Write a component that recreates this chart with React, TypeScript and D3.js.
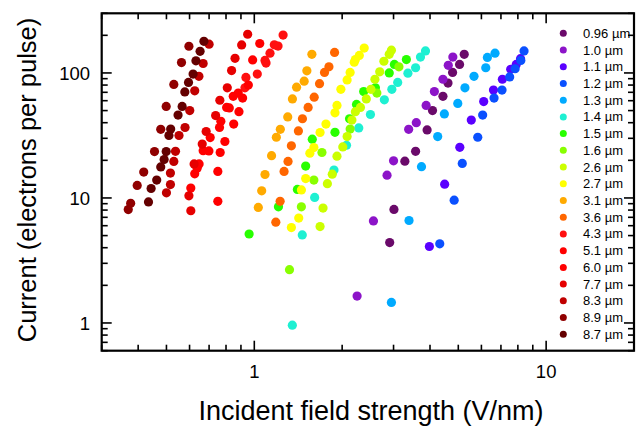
import React from 'react';
import * as d3 from 'd3';

const W = 642;
const H = 430;
const PL = 101.7, PR = 634, PT = 13.3, PB = 350.7;

const xDomain: [number, number] = [0.3, 20];
const yDomain: [number, number] = [0.6, 300];
const xTickLabels = [1, 10];
const yTickLabels = [1, 10, 100];

const seriesLabels = ['0.96 µm', '1.0 µm', '1.1 µm', '1.2 µm', '1.3 µm', '1.4 µm', '1.5 µm', '1.6 µm', '2.6 µm',
  '2.7 µm', '3.1 µm', '3.6 µm', '4.3 µm', '5.1 µm', '6.0 µm', '7.7 µm', '8.3 µm', '8.9 µm', '8.7 µm'];
const seriesColors = ['#6a0a6a', '#8c14c8', '#5a00ff', '#0a50ff', '#00aaff', '#1ef0d2', '#28ff00', '#88ff00', '#ccff00',
  '#ffff00', '#ffaa00', '#ff6600', '#ff1010', '#ff0000', '#ff0000', '#e60000', '#c00000', '#900000', '#640000'];

const x096 = [5.24, 5.05, 4.78, 4.61, 4.43, 4.08, 3.91, 3.57, 3.28, 3.01, 2.91];
const y096 = [141, 117, 101, 83, 65, 50, 35, 23.6, 19.7, 8.1, 4.4];
const x100 = [4.79, 4.62, 4.43, 4.14, 3.88, 3.59, 3.38, 3.0, 2.85, 2.56, 2.25];
const y100 = [134, 115, 89, 71, 55, 40, 35.4, 19.8, 15.2, 6.55, 1.64];
const x110 = [8.17, 7.9, 7.56, 7.08, 6.6, 6.11, 5.54, 5.06, 4.49, 3.98];
const y110 = [130, 117, 107, 89, 73, 59, 42, 25.4, 12.9, 4.09];
const x120 = [8.4, 8.19, 7.83, 7.5, 7.06, 6.63, 6.06, 5.83, 5.16, 4.84, 4.32];
const y120 = [150, 126, 108, 93, 73, 63, 46, 30.6, 18.9, 9.6, 4.3];
const x130 = [6.68, 6.29, 6.21, 5.66, 5.27, 4.98, 4.48, 4.25, 3.74, 3.39, 2.95];
const y130 = [144, 133, 110, 94, 76, 57, 47, 31, 17.8, 6.6, 1.46];
const x140 = [3.86, 3.71, 3.57, 3.36, 3.1, 2.96, 2.79, 2.5, 2.28, 2.07, 1.875, 1.61, 1.46, 1.35];
const y140 = [150, 134, 110, 99.5, 84, 74, 61, 46.5, 36.3, 26.4, 16.7, 10.1, 5.06, 0.96];
const x150 = [3.32, 3.02, 2.9, 2.6, 2.37, 2.24, 2.12, 1.89, 1.58, 1.5, 1.405, 1.21, 0.96];
const y150 = [128, 117, 100, 76, 71, 56, 43, 33.5, 29.5, 18, 11.7, 8.5, 5.15];
const x160 = [3.13, 2.63, 2.13, 1.705, 1.6, 1.45, 1.32];
const y160 = [112, 69, 35.6, 23.1, 13.9, 8.5, 2.67];
const x260 = [2.95, 2.9, 2.78, 2.69, 2.59, 2.51, 2.42, 2.31, 2.22, 2.16, 2.08, 2.01, 1.92, 1.85, 1.78, 1.72, 1.68];
const y260 = [152, 141, 124, 102, 89, 74, 62, 53, 49, 42, 31, 25.6, 21.6, 15.5, 13, 8.3, 5.9];
const x270 = [2.38, 2.29, 2.22, 2.2, 2.13, 2.08, 1.98, 1.92, 1.89, 1.76, 1.68, 1.6, 1.55, 1.5, 1.45, 1.42, 1.34];
const y270 = [158, 138, 128, 122, 101, 88, 74, 55, 48, 39, 33.4, 25.3, 22.8, 14.3, 11.6, 6.9, 5.8];
const x310 = [1.575, 1.514, 1.482, 1.396, 1.351, 1.302, 1.228, 1.19, 1.146, 1.088, 1.06, 1.032];
const y310 = [141, 104, 86, 77, 62, 44.5, 35.4, 30.6, 21.8, 15.4, 11.4, 8.4];
const x360 = [1.884, 1.802, 1.74, 1.673, 1.604, 1.529, 1.462, 1.416, 1.34, 1.305, 1.265, 1.226, 1.185];
const y360 = [146, 112, 101, 82, 64, 53, 43, 34.4, 26.1, 19.6, 16.3, 9.4, 6.4];
const x430 = [1.255, 1.206, 1.171, 1.132, 1.097, 1.088, 1.024, 0.936, 0.929];
const y430 = [201, 164, 168, 144, 120, 126, 98, 92, 76];
const x510 = [1.044, 0.987, 0.954, 0.912, 0.847, 0.886, 0.85, 0.793, 0.764, 0.75, 0.75];
const y510 = [172, 127, 80, 63, 65, 49, 39, 28.3, 23.1, 16.3, 9.4];
const x600 = [0.881, 0.821, 0.804, 0.768, 0.76, 0.706, 0.699, 0.668, 0.647, 0.637, 0.625, 0.606];
const y600 = [69, 52.5, 53, 41, 36.6, 30.4, 23.8, 23.9, 18.7, 17.3, 15.6, 12];
const x770 = [0.949, 0.905, 0.859, 0.836, 0.808, 0.762, 0.737, 0.684, 0.663, 0.622, 0.597, 0.606];
const y770 = [204, 167.5, 131, 104.5, 76, 60.5, 45.6, 34, 27, 18.7, 10.4, 7.9];
const x830 = [0.7, 0.668, 0.646, 0.625, 0.601, 0.579, 0.552, 0.537, 0.53, 0.516, 0.516, 0.5];
const y830 = [170, 119, 94, 72, 50, 36.6, 31.6, 23.6, 19.6, 15.8, 12.8, 11];
const x890 = [0.597, 0.563, 0.53, 0.499, 0.478, 0.455, 0.418, 0.397, 0.377, 0.37];
const y890 = [163.5, 121, 81, 54, 35.4, 23.5, 16.1, 12.6, 9.07, 8.08];
const x870 = [0.672, 0.652, 0.631, 0.617, 0.595, 0.578, 0.566, 0.548, 0.517, 0.51, 0.499, 0.491, 0.478, 0.463, 0.443, 0.434];
const y870 = [179, 149, 125, 98, 84, 70.5, 54, 46, 35.6, 31.6, 23.5, 20.3, 17.7, 13.9, 11.9, 9.3];

const seriesX = [x096, x100, x110, x120, x130, x140, x150, x160, x260, x270, x310, x360, x430, x510, x600, x770, x830, x890, x870];
const seriesY = [y096, y100, y110, y120, y130, y140, y150, y160, y260, y270, y310, y360, y430, y510, y600, y770, y830, y890, y870];

const FONT = '"Liberation Sans", Arial, Helvetica, sans-serif';

export default function App() {
  const x = d3.scaleLog().domain(xDomain).range([PL, PR]);
  const y = d3.scaleLog().domain(yDomain).range([PB, PT]);
  const isMajor = (v: number) => Math.abs(Math.log10(v) - Math.round(Math.log10(v))) < 1e-9;
  const xt = x.ticks();
  const yt = y.ticks();
  const MAJ = 10, MIN = 6;

  return (
    <svg width={W} height={H} style={{ position: 'absolute', left: 0, top: 0, background: '#fff' }}
      fontFamily={FONT}>
      <rect x={0} y={0} width={W} height={H} fill="#fff" />
      {seriesX.map((xs, si) => (
        <g key={si} fill={seriesColors[si]}>
          {xs.map((xv, i) => (
            <circle key={i} cx={x(xv)} cy={y(seriesY[si][i])} r={4.6} />
          ))}
        </g>
      ))}
      <g stroke="#000" strokeWidth={1.6}>
        {xt.map((v, i) => {
          const len = isMajor(v) ? MAJ : MIN;
          const px = x(v);
          return (
            <g key={'x' + i}>
              <line x1={px} x2={px} y1={PB} y2={PB - len} />
              <line x1={px} x2={px} y1={PT} y2={PT + len} />
            </g>
          );
        })}
        {yt.map((v, i) => {
          const len = isMajor(v) ? MAJ : MIN;
          const py = y(v);
          return (
            <g key={'y' + i}>
              <line x1={PL} x2={PL + len} y1={py} y2={py} />
              <line x1={PR} x2={PR - len} y1={py} y2={py} />
            </g>
          );
        })}
      </g>
      <rect x={PL} y={PT} width={PR - PL} height={PB - PT} fill="none" stroke="#000" strokeWidth={2.2} />
      {xTickLabels.map((v) => (
        <text key={'xl' + v} x={x(v)} y={378} textAnchor="middle" fontSize={18.5} fill="#000">{v}</text>
      ))}
      {yTickLabels.map((v) => (
        <text key={'yl' + v} x={90} y={y(v) + 6.6} textAnchor="end" fontSize={18.5} fill="#000">{v}</text>
      ))}
      <text x={371} y={420} textAnchor="middle" fontSize={27} fill="#000">Incident field strength (V/nm)</text>
      <text transform={`translate(36,${(PT + PB) / 2 - 2}) rotate(-90)`} textAnchor="middle" fontSize={25.5} fill="#000">
        Current (electrons per pulse)
      </text>
      {seriesLabels.map((lab, i) => (
        <g key={'lg' + i}>
          <circle cx={563.3} cy={33.3 + i * 16.72} r={3.5} fill={seriesColors[i]} />
          <text x={583} y={33.3 + i * 16.72 + 4.5} fontSize={13} fill="#000">{lab}</text>
        </g>
      ))}
    </svg>
  );
}
